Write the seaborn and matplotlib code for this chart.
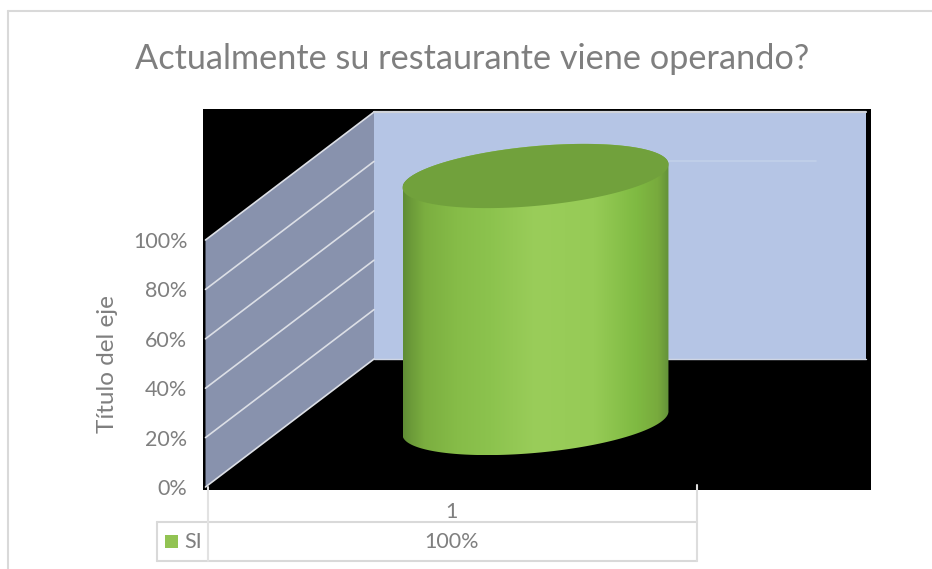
import numpy as np
import matplotlib
matplotlib.use("Agg")
import matplotlib.pyplot as plt
from matplotlib.colors import LinearSegmentedColormap
from matplotlib.lines import Line2D
from matplotlib.patches import Polygon, Rectangle
import seaborn as sns

# Chart content
titulo = "Actualmente su restaurante viene operando?"
eje_y = "Título del eje"
categorias = ["1"]
serie = "SI"
valores = [1.0]
marcas_y = [0.0, 0.2, 0.4, 0.6, 0.8, 1.0]

W, H = 932, 569
GRIS = "#7f7f7f"
LINEA = "#d9d9d9"
CLARO = "#dcdfe6"

sns.set_theme(style="white")
plt.rcParams["font.family"] = ["Lato", "DejaVu Sans"]

fig = plt.figure(figsize=(W / 100, H / 100), dpi=100, facecolor="white")


def caja(x0, y_top, x1, y_bot):
    """Axes rectangle from pixel edges, with y measured from the top."""
    return [x0 / W, 1 - y_bot / H, (x1 - x0) / W, (y_bot - y_top) / H]


def marco(x0, y0, x1, y1, color=LINEA, lw=1.5, z=5):
    fig.add_artist(Line2D([x0 / W, x1 / W], [1 - y0 / H, 1 - y1 / H],
                          color=color, lw=lw, zorder=z))


# Black backdrop behind the 3D scene
fondo = fig.add_axes(caja(203, 109, 871, 490), zorder=0, facecolor="black")
fondo.set_xticks([])
fondo.set_yticks([])
for s in fondo.spines.values():
    s.set_visible(False)

# Front plane of the plot: one category across x, percent on y
ax = fig.add_axes(caja(205.5, 240, 697, 487), zorder=1)
ax.patch.set_alpha(0)
sns.barplot(x=categorias, y=valores, width=0.541, color="#92c353", ax=ax)
barra = ax.patches[0]
ax.set_xlim(-0.5, 0.5)
ax.set_ylim(0, 1)

# Oblique projection of the depth axis, in data units
PROF_X, PROF_Y = 168.5 / 491.5, 128 / 247
proy = lambda x, y, d: (x + d * PROF_X, y + d * PROF_Y)

# Back wall
pared = [proy(-0.5, 0, 1), proy(0.5, 0, 1), proy(0.5, 1, 1), proy(-0.5, 1, 1)]
ax.add_patch(Polygon(pared, closed=True, fc="#b5c5e5", ec="none", clip_on=False, zorder=1))
# Side wall
lado = [proy(-0.5, 0, 0), proy(-0.5, 0, 1), proy(-0.5, 1, 1), proy(-0.5, 1, 0)]
ax.add_patch(Polygon(lado, closed=True, fc="#8892ad", ec="none", clip_on=False, zorder=1))

# Gridlines run up the side wall; on the back wall only the one above the bar shows
for m in marcas_y:
    p, q = proy(-0.5, m, 0), proy(-0.5, m, 1)
    ax.plot([p[0], q[0]], [p[1], q[1]], color=CLARO, lw=1.2, clip_on=False, zorder=2)
a, b = proy(-0.5, 1, 1), proy(0.5, 1, 1)
ax.plot([a[0], b[0]], [a[1], b[1]], color="#cfd3da", lw=1.6, clip_on=False, zorder=2)
a, b = proy(-0.5, 0, 1), proy(0.5, 0, 1)
ax.plot([a[0], b[0]], [a[1], b[1]], color="#cfd6e4", lw=1.0, clip_on=False, zorder=2)
a, b = proy(0.095, 0.8, 1), proy(0.4, 0.8, 1)
ax.plot([a[0], b[0]], [a[1], b[1]], color="#c2d0e9", lw=1.2, clip_on=False, zorder=2)

# Cylinder built from the bar's own value and width
x_c = barra.get_x() + barra.get_width() / 2
alto = barra.get_height()
barra.set_visible(False)
mayor = np.array([barra.get_width() / 2, 0.05])
menor = np.array([-0.006, 0.12])
t = np.linspace(0, 2 * np.pi, 361)


def elipse(nivel, tt=t):
    cx, cy = proy(x_c, nivel, 0.5)
    return (cx + mayor[0] * np.cos(tt) + menor[0] * np.sin(tt),
            cy + mayor[1] * np.cos(tt) + menor[1] * np.sin(tt))


ex0, ey0 = elipse(0.0)
ex1, ey1 = elipse(alto)
# Silhouette: front half of the base ellipse, then back half of the top ellipse
frente = np.linspace(np.pi, 2 * np.pi, 181)
atras = np.linspace(0, np.pi, 181)
bx, by = elipse(0.0, frente)
tx, ty = elipse(alto, atras)
sil = np.r_[np.c_[bx, by], np.c_[tx, ty]]

cuerpo = Polygon(sil, closed=True, fc="none", ec="none", clip_on=False)
ax.add_patch(cuerpo)
tono = LinearSegmentedColormap.from_list("cilindro", [
    (0.00, "#5f8d35"), (0.03, "#6c9b39"), (0.08, "#7bae40"), (0.20, "#86bc48"),
    (0.33, "#8cc34e"), (0.50, "#9acd5a"), (0.72, "#96cb56"), (0.88, "#7fba42"),
    (0.96, "#78aa3d"), (1.00, "#64923a"),
])
franja = ax.imshow(np.linspace(0, 1, 256)[None, :], cmap=tono, aspect="auto",
                   extent=[ex0.min(), ex0.max(), ey0.min(), ey1.max()], zorder=3)
franja.set_clip_box(fig.bbox)
franja.set_clip_path(cuerpo)
ax.add_patch(Polygon(np.c_[ex1, ey1], closed=True, fc="#71a13c", ec="none", clip_on=False, zorder=4))
ax.set_xlim(-0.5, 0.5)
ax.set_ylim(0, 1)

# Axes text
ax.set_yticks(marcas_y)
ax.set_yticklabels([f"{m:.0%}" for m in marcas_y], color=GRIS, fontsize=15.5)
ax.tick_params(axis="y", length=0, pad=13)
ax.set_xticks(range(len(categorias)))
ax.set_xticklabels(categorias, color=GRIS, fontsize=15.5)
ax.tick_params(axis="x", length=0, pad=11)
ax.set_xlabel("")
ax.set_ylabel("")
for s in ax.spines.values():
    s.set_visible(False)

fig.text(108 / W, 1 - 364 / H, eje_y, rotation=90, color=GRIS, fontsize=17.5, ha="center", va="center")
fig.text(472 / W, 1 - 59 / H, titulo, color=GRIS, fontsize=24.7, ha="center", va="center")

# Outer chart frame, open to the right and bottom
marco(8, 11, 932, 11, lw=1.5)
marco(8, 11, 8, 569, lw=1.5)

# Data table under the plot
marco(157, 522, 697, 522)
marco(157, 561, 697, 561)
marco(157, 522, 157, 561)
marco(207.5, 487, 207.5, 561, color="#e2e2e2")
marco(697, 485, 697, 561, color="#dddddd")
fig.add_artist(Rectangle((165 / W, 1 - 548 / H), 13 / W, 13 / H, fc="#92c353", ec="none",
                         transform=fig.transFigure, zorder=6))
fig.text(184 / W, 1 - 541.5 / H, serie, color=GRIS, fontsize=15.5, ha="left", va="center")
fig.text(452 / W, 1 - 541.5 / H, f"{valores[0]:.0%}", color=GRIS, fontsize=15.5, ha="center", va="center")

fig.savefig("out.png", dpi=100)
